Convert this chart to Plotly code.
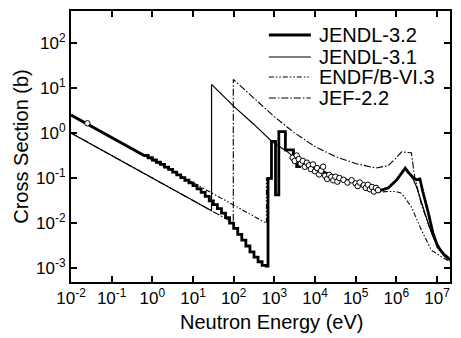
import plotly.graph_objects as go

# ---------------- data ----------------
# JENDL-3.2 : 1/v part, histogram part, smooth fast region
j32_low_E = [0.01, 0.631]
j32_low_s = [2.5, 0.316]
j32_step_E = [0.631, 0.794, 1.0, 1.259, 1.585, 1.995, 2.512, 3.162, 3.981, 5.012,
              6.31, 7.943, 10.0, 12.59, 15.85, 19.95, 25.12, 31.62, 39.81, 50.12,
              63.1, 79.43, 100.0, 125.9, 158.5, 199.5, 251.2, 316.2, 398.1, 501.2,
              631.0, 700.0, 850.0, 1070.0, 1290.0, 1870.0, 2950.0, 3550.0, 4170.0, 4700.0]
j32_step_s = [0.316, 0.282, 0.251, 0.224, 0.2, 0.174, 0.155, 0.135, 0.117, 0.102,
              0.0891, 0.0776, 0.0676, 0.0575, 0.0479, 0.0389, 0.0309, 0.0257, 0.0209, 0.0166,
              0.0132, 0.01, 0.00759, 0.00562, 0.00417, 0.00309, 0.00229, 0.00174, 0.00138, 0.00115,
              0.0011, 0.098, 0.65, 0.042, 1.07, 0.42, 0.28, 0.18, 0.24, 0.2]
j32_hi_E = [5012, 1e4, 19953, 39811, 1e5, 199526, 398107, 630957, 1e6, 1.259e6, 1.66e6,
            1.995e6, 2.512e6, 3.09e6, 3.8e6, 4.47e6, 5.37e6, 6.03e6, 7.94e6, 1.047e7,
            1.514e7, 2.09e7]
j32_hi_s = [0.2, 0.166, 0.126, 0.1, 0.0794, 0.063, 0.0525, 0.0603, 0.0891, 0.1175, 0.166,
            0.132, 0.105, 0.0912, 0.0955, 0.0501, 0.0282, 0.0178, 0.00603, 0.00295,
            0.00195, 0.00151]

# JENDL-3.1
j31_E = [0.01, 28.6, 28.6, 98, 316, 870, 2040, 2950, 5012, 1e4, 19953, 39811, 1e5,
         199526, 398107, 630957, 1e6, 1.259e6, 1.66e6, 1.995e6, 2.512e6, 3.16e6,
         3.98e6, 5.01e6, 6.31e6, 7.94e6, 1e7, 1.41e7, 2.09e7]
j31_s = [1.0, 0.0187, 12.0, 4.0, 1.55, 0.65, 0.39, 0.3, 0.2, 0.166, 0.126, 0.1, 0.0794,
         0.063, 0.0525, 0.0603, 0.0891, 0.1175, 0.166, 0.132, 0.1, 0.063,
         0.0316, 0.0158, 0.0089, 0.005, 0.00316, 0.00209, 0.00158]

# ENDF/B-VI.3
endf_low_E = [0.01, 640, 640]
endf_low_s = [2.5, 0.00988, 0.098]
endf_hi_E = [316228, 630957, 1e6, 1.35e6, 2.34e6, 4.17e6, 7.24e6, 1.29e7, 2.09e7]
endf_hi_s = [0.0479, 0.0501, 0.0501, 0.0457, 0.0229, 0.0069, 0.0025, 0.00178, 0.00138]

# JEF-2.2
jef_E = [0.01, 98, 98, 316, 1000, 3162, 1e4, 31623, 1e5, 316228, 630957, 1e6,
         1.35e6, 2.34e6, 2.82e6, 4.17e6, 7.24e6, 1.26e7, 2.09e7]
jef_s = [1.0, 0.0101, 15.5, 6.0, 2.3, 1.0, 0.5, 0.3, 0.21, 0.166, 0.19, 0.28,
         0.38, 0.363, 0.107, 0.025, 0.0063, 0.0025, 0.0016]

# measured points
exp_E = [0.0253, 2818, 3162, 3548, 3981, 4467, 5012, 5623, 6310, 7079, 7943, 8913,
         10000, 11220, 12589, 14125, 15849, 17783, 19953, 22387, 25119, 28184, 31623,
         35481, 39811, 50119, 63096, 79433, 100000, 112202, 125893, 158489, 177828,
         199526, 223872, 251189, 281838, 316228, 354813]
exp_s = [1.64, 0.282, 0.240, 0.316, 0.263, 0.209, 0.240, 0.178, 0.219, 0.191, 0.158, 0.200,
         0.141, 0.166, 0.120, 0.145, 0.178, 0.112, 0.0955, 0.117, 0.105, 0.0891, 0.107,
         0.0832, 0.100, 0.0912, 0.0794, 0.0891, 0.0759, 0.0661, 0.0794, 0.0692, 0.0603,
         0.0708, 0.0562, 0.0631, 0.0501, 0.0603, 0.0537]

x_tick_exp = [-2, -1, 0, 1, 2, 3, 4, 5, 6, 7]
y_tick_exp = [-3, -2, -1, 0, 1, 2]

legend_names = ["JENDL-3.2", "JENDL-3.1", "ENDF/B-VI.3", "JEF-2.2"]


def steps(E, s):
    xs, ys = [], []
    for i in range(len(E)):
        xs.append(E[i]); ys.append(s[i])
        if i + 1 < len(E):
            xs.append(E[i + 1]); ys.append(s[i])
    return xs, ys


sx, sy = steps(j32_step_E, j32_step_s)
j32_x = j32_low_E + sx + j32_hi_E
j32_y = j32_low_s + sy + j32_hi_s

# ENDF follows the JENDL-3.2 shape between the jump and ~200 keV
k0 = j32_step_E.index(700.0)
ex, ey = steps(j32_step_E[k0:], j32_step_s[k0:])
mid_E = [e for e in j32_hi_E if e <= 199526]
mid_s = j32_hi_s[:len(mid_E)]
endf_x = endf_low_E + ex + mid_E + endf_hi_E
endf_y = endf_low_s + ey + mid_s + endf_hi_s

FONT = "Liberation Sans, Arial, Helvetica, sans-serif"

styles = {
    "JENDL-3.2": dict(color="black", width=2.8),
    "JENDL-3.1": dict(color="black", width=1.2),
    "ENDF/B-VI.3": dict(color="black", width=1.1, dash="5px,2px,1.5px,2px,1.5px,2px"),
    "JEF-2.2": dict(color="black", width=1.1, dash="7px,2px,1.5px,2px"),
}

fig = go.Figure()
fig.add_trace(go.Scatter(x=jef_E, y=jef_s, mode="lines", name="JEF-2.2",
                         line=styles["JEF-2.2"], showlegend=False))
fig.add_trace(go.Scatter(x=endf_x, y=endf_y, mode="lines", name="ENDF/B-VI.3",
                         line=styles["ENDF/B-VI.3"], showlegend=False))
fig.add_trace(go.Scatter(x=j31_E, y=j31_s, mode="lines", name="JENDL-3.1",
                         line=styles["JENDL-3.1"], showlegend=False))
fig.add_trace(go.Scatter(x=j32_x, y=j32_y, mode="lines", name="JENDL-3.2",
                         line=styles["JENDL-3.2"], showlegend=False))
fig.add_trace(go.Scatter(x=exp_E, y=exp_s, mode="markers", showlegend=False,
                         marker=dict(symbol="circle", size=5.5, color="white",
                                     line=dict(color="black", width=1)),
                         error_y=dict(type="percent", value=10, color="black",
                                      thickness=0.8, width=1.5)))

# hand-drawn legend (tight line spacing as in the reference)
leg_x0, leg_x1, leg_tx = 0.522, 0.633, 0.648
leg_y = [0.9114, 0.8303, 0.7565, 0.679]
for name, yy in zip(legend_names, leg_y):
    fig.add_shape(type="line", xref="paper", yref="paper", x0=leg_x0, x1=leg_x1,
                  y0=yy, y1=yy, line=styles[name])
    fig.add_annotation(xref="paper", yref="paper", x=leg_tx, y=yy, text=name,
                       showarrow=False, xanchor="left", yanchor="middle",
                       font=dict(family=FONT, size=20, color="black"))

# x-axis title placed as in the reference (slightly right of centre)
fig.add_annotation(xref="paper", yref="paper", x=0.53, y=-0.1476,
                   text="Neutron Energy (eV)", showarrow=False,
                   xanchor="center", yanchor="middle",
                   font=dict(family=FONT, size=20, color="black"))

axis_common = dict(type="log", showgrid=False, zeroline=False, showline=True,
                   linecolor="black", linewidth=2, mirror="ticks", ticks="inside",
                   ticklen=6, tickwidth=1.5, tickcolor="black",
                   tickfont=dict(family=FONT, size=17, color="black"))

fig.update_xaxes(**axis_common, range=[-2, 7.32],
                 tickvals=[10 ** e for e in x_tick_exp],
                 ticktext=["10<sup>%d</sup>" % e for e in x_tick_exp])
fig.update_yaxes(**axis_common, range=[-3.31, 2.71],
                 tickvals=[10 ** e for e in y_tick_exp],
                 ticktext=["10<sup>%d</sup>" % e for e in y_tick_exp],
                 title=dict(text="Cross Section (b)", standoff=2,
                            font=dict(family=FONT, size=20, color="black")))

fig.update_layout(
    width=461, height=338,
    margin=dict(l=71, r=9, t=11, b=56),
    paper_bgcolor="white", plot_bgcolor="white",
    showlegend=False,
)

fig.write_html("out.html")
